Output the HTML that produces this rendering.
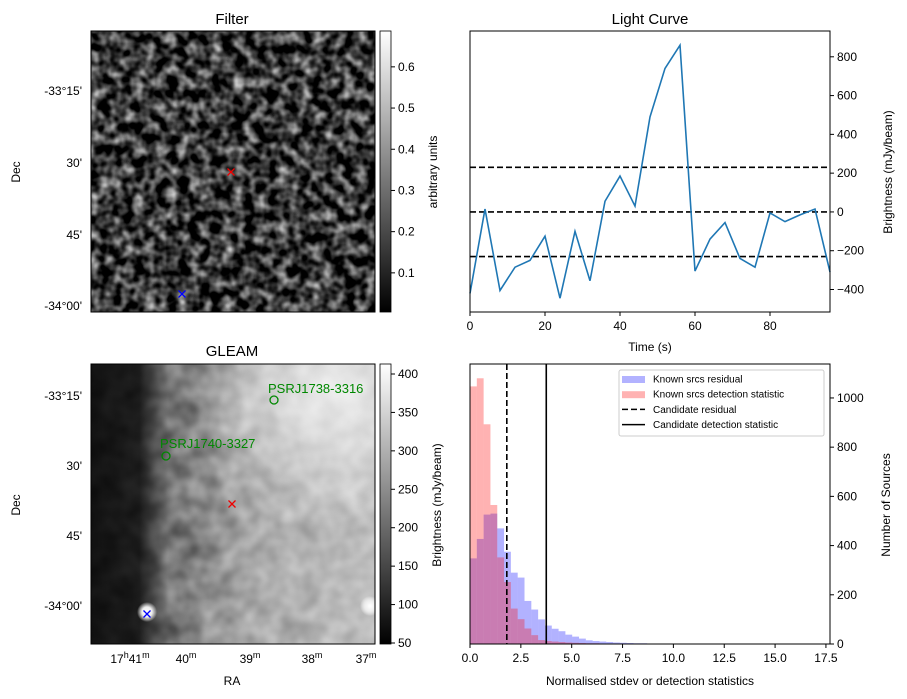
<!DOCTYPE html>
<html><head><meta charset="utf-8"><style>
body{margin:0;background:#fff;}
svg{display:block;font-family:"Liberation Sans","DejaVu Sans",sans-serif;}
</style></head><body>
<svg id="fig" width="907" height="699" viewBox="0 0 907 699">
<defs>
<filter id="noise1" x="0" y="0" width="100%" height="100%" color-interpolation-filters="sRGB">
<feTurbulence type="fractalNoise" baseFrequency="0.09" numOctaves="2" seed="3"/>
<feColorMatrix type="matrix" values="1.5 0 0 0 -0.53  1.5 0 0 0 -0.53  1.5 0 0 0 -0.53  0 0 0 0 1"/>
</filter>
<filter id="noise2" x="0" y="0" width="100%" height="100%" color-interpolation-filters="sRGB">
<feTurbulence type="fractalNoise" baseFrequency="0.05" numOctaves="2" seed="7"/>
<feColorMatrix type="matrix" values="1.4 0 0 0 -0.2  1.4 0 0 0 -0.2  1.4 0 0 0 -0.2  0 0 0 0 0.35"/>
</filter>
<linearGradient id="gleamGrad" x1="0" y1="0" x2="1" y2="0">
<stop offset="0" stop-color="#111"/><stop offset="0.17" stop-color="#1c1c1c"/>
<stop offset="0.27" stop-color="#707070"/><stop offset="0.55" stop-color="#a8a8a8"/>
<stop offset="1" stop-color="#c0c0c0"/></linearGradient>
<radialGradient id="gleamHi" cx="0.85" cy="0.1" r="0.5"><stop offset="0" stop-color="#fff" stop-opacity="0.75"/><stop offset="1" stop-color="#fff" stop-opacity="0"/></radialGradient>
<radialGradient id="blob"><stop offset="0" stop-color="#fff"/><stop offset="0.5" stop-color="#eee"/><stop offset="1" stop-color="#fff" stop-opacity="0"/></radialGradient>
<linearGradient id="cbGray" x1="0" y1="1" x2="0" y2="0"><stop offset="0" stop-color="#000"/><stop offset="1" stop-color="#fff"/></linearGradient>
<clipPath id="clipG"><rect x="91" y="364" width="284" height="280"/></clipPath>
</defs>

<g>
<text x="232" y="24" font-size="15" text-anchor="middle">Filter</text>
<rect x="91" y="31" width="284" height="281" fill="#000" filter="url(#noise1)"/>
<rect x="91" y="31" width="284" height="281" fill="none" stroke="#000" stroke-width="1"/>
<path d="M227.5,168.5l7,7M234.5,168.5l-7,7" stroke="#e00" stroke-width="1.3"/>
<path d="M178.5,290.5l7,7M185.5,290.5l-7,7" stroke="#00f" stroke-width="1.3"/>
<g font-size="12" text-anchor="end">
<text x="82" y="95">-33°15'</text><text x="82" y="167">30'</text><text x="82" y="239">45'</text><text x="82" y="310">-34°00'</text>
</g>
<text transform="translate(20,172) rotate(-90)" font-size="12" text-anchor="middle">Dec</text>
<rect x="380" y="31" width="11" height="281" fill="url(#cbGray)" stroke="#000" stroke-width="0.8"/>
<g id="cb1ticks" font-size="12"></g>
<text transform="translate(437,172) rotate(-90)" font-size="12" text-anchor="middle">arbitrary units</text>
</g>

<g>
<text x="232" y="356" font-size="15" text-anchor="middle">GLEAM</text>
<g clip-path="url(#clipG)">
<rect x="91" y="364" width="284" height="280" fill="url(#gleamGrad)"/>
<rect x="91" y="364" width="284" height="280" fill="url(#gleamHi)"/>
<rect x="91" y="364" width="284" height="280" fill="#000" filter="url(#noise2)" style="mix-blend-mode:overlay"/>
<circle cx="147" cy="612" r="10" fill="url(#blob)"/>
<circle cx="370" cy="606" r="10" fill="url(#blob)"/>
</g>
<rect x="91" y="364" width="284" height="280" fill="none" stroke="#000" stroke-width="1"/>
<path d="M228.5,500.5l7,7M235.5,500.5l-7,7" stroke="#e00" stroke-width="1.3"/>
<path d="M143.5,610.5l7,7M150.5,610.5l-7,7" stroke="#00f" stroke-width="1.3"/>
<circle cx="274" cy="400" r="4" fill="none" stroke="#080" stroke-width="1.3"/>
<text x="268" y="393" font-size="13" fill="#080">PSRJ1738-3316</text>
<circle cx="166" cy="456" r="4" fill="none" stroke="#080" stroke-width="1.3"/>
<text x="160" y="448" font-size="13" fill="#080">PSRJ1740-3327</text>
<g font-size="12" text-anchor="end">
<text x="82" y="400">-33°15'</text><text x="82" y="470">30'</text><text x="82" y="540">45'</text><text x="82" y="610">-34°00'</text>
</g>
<g font-size="12" text-anchor="middle">
<text x="130" y="663">17<tspan font-size="9" dy="-5">h</tspan><tspan dy="5">41</tspan><tspan font-size="9" dy="-5">m</tspan></text>
<text x="186" y="663">40<tspan font-size="9" dy="-5">m</tspan></text>
<text x="250" y="663">39<tspan font-size="9" dy="-5">m</tspan></text>
<text x="312" y="663">38<tspan font-size="9" dy="-5">m</tspan></text>
<text x="366" y="663">37<tspan font-size="9" dy="-5">m</tspan></text>
</g>
<text x="232" y="685" font-size="12" text-anchor="middle">RA</text>
<text transform="translate(20,505) rotate(-90)" font-size="12" text-anchor="middle">Dec</text>
<rect x="380" y="364" width="11" height="280" fill="url(#cbGray)" stroke="#000" stroke-width="0.8"/>
<g id="cb2ticks" font-size="12"></g>
<text transform="translate(441,505) rotate(-90)" font-size="12" text-anchor="middle">Brightness (mJy/beam)</text>
</g>

<g id="lc">
<text x="650" y="24" font-size="15" text-anchor="middle">Light Curve</text>
<text x="650" y="351" font-size="12" text-anchor="middle">Time (s)</text>
<text transform="translate(892,172) rotate(-90)" font-size="12" text-anchor="middle">Brightness (mJy/beam)</text>
</g>

<g id="hist">
<text x="650" y="685" font-size="12" text-anchor="middle">Normalised stdev or detection statistics</text>
<text transform="translate(890,505) rotate(-90)" font-size="12" text-anchor="middle">Number of Sources</text>
</g>
</svg>
<script>
const NS="http://www.w3.org/2000/svg";
function mk(parent,tag,attrs,text){const e=document.createElementNS(NS,tag);for(const k in attrs)e.setAttribute(k,attrs[k]);if(text!==undefined)e.textContent=text;parent.appendChild(e);return e;}

const cb1Ticks=[0.1,0.2,0.3,0.4,0.5,0.6];
const cb2Ticks=[50,100,150,200,250,300,350,400];
const cb1y=v=>312-(v-0.005)/(0.687-0.005)*281;
const cb2y=v=>644-(v-48.7)/(413-48.7)*280;
const g1=document.getElementById('cb1ticks');
cb1Ticks.forEach(v=>{mk(g1,'line',{x1:391,x2:395,y1:cb1y(v),y2:cb1y(v),stroke:'#000'});const t=mk(g1,'text',{x:398,y:cb1y(v)+4},v.toFixed(1));

});
const g2=document.getElementById('cb2ticks');
cb2Ticks.forEach(v=>{mk(g2,'line',{x1:391,x2:395,y1:cb2y(v),y2:cb2y(v),stroke:'#000'});const t=mk(g2,'text',{x:398,y:cb2y(v)+4},String(v));

});

const lcTimes=[0,4,8,12,16,20,24,28,32,36,40,44,48,52,56,60,64,68,72,76,80,84,88,92,96];
const lcFlux=[-420,15,-405,-285,-250,-125,-445,-100,-355,55,185,30,490,740,860,-305,-140,-55,-240,-285,-5,-50,-15,15,-310];
const lcThresholds=[230,0,-230];
const lcXTicks=[0,20,40,60,80];
const lcYTicks=[-400,-200,0,200,400,600,800];
const LC={x0:470,x1:830,y0:31,y1:312,xmin:0,xmax:96,ymin:-516,ymax:933};
const lx=v=>LC.x0+(v-LC.xmin)/(LC.xmax-LC.xmin)*(LC.x1-LC.x0);
const ly=v=>LC.y1-(v-LC.ymin)/(LC.ymax-LC.ymin)*(LC.y1-LC.y0);
const lc=document.getElementById('lc');
lcThresholds.forEach(v=>{const l=mk(lc,'line',{x1:LC.x0,x2:LC.x1,y1:ly(v),y2:ly(v),stroke:'#000','stroke-width':1.6,'stroke-dasharray':'6,3'});

});
const pl=mk(lc,'polyline',{points:lcTimes.map((t,i)=>lx(t)+','+ly(lcFlux[i])).join(' '),fill:'none',stroke:'#1f77b4','stroke-width':1.6});


mk(lc,'rect',{x:LC.x0,y:LC.y0,width:LC.x1-LC.x0,height:LC.y1-LC.y0,fill:'none',stroke:'#000','stroke-width':1});
lcXTicks.forEach(v=>{mk(lc,'line',{x1:lx(v),x2:lx(v),y1:LC.y1,y2:LC.y1+4,stroke:'#000'});const t=mk(lc,'text',{x:lx(v),y:LC.y1+18,'font-size':12,'text-anchor':'middle'},String(v));

});
lcYTicks.forEach(v=>{mk(lc,'line',{x1:LC.x1,x2:LC.x1+4,y1:ly(v),y2:ly(v),stroke:'#000'});const t=mk(lc,'text',{x:LC.x1+7,y:ly(v)+4,'font-size':12},String(v).replace('-','\u2212'));

});

const binWidth=0.335;
const blueCounts=[348,427,526,530,470,375,290,270,175,140,100,75,62,52,38,30,22,15,12,10,8,6,5,4,3,3,2,2,2,1,1,1];
const redCounts=[1047,1080,893,565,352,252,144,101,63,36,16,12,10,8,6,5,4,3,3,2,2,2,1,1,1,1];
const candResidual=1.81;
const candDetection=3.75;
const hXTicks=[0,2.5,5,7.5,10,12.5,15,17.5];
const hYTicks=[0,200,400,600,800,1000];
const H={x0:470,x1:830,y0:364,y1:644,xmin:0,xmax:17.7,ymin:0,ymax:1138};
const hx=v=>H.x0+(v-H.xmin)/(H.xmax-H.xmin)*(H.x1-H.x0);
const hy=v=>H.y1-(v-H.ymin)/(H.ymax-H.ymin)*(H.y1-H.y0);
const hg=document.getElementById('hist');
blueCounts.forEach((c,i)=>{const r=mk(hg,'rect',{x:hx(i*binWidth),y:hy(c),width:hx((i+1)*binWidth)-hx(i*binWidth),height:hy(0)-hy(c),fill:'#0000ff','fill-opacity':0.3});

});
redCounts.forEach((c,i)=>{const r=mk(hg,'rect',{x:hx(i*binWidth),y:hy(c),width:hx((i+1)*binWidth)-hx(i*binWidth),height:hy(0)-hy(c),fill:'#ff0000','fill-opacity':0.3});

});
const dl=mk(hg,'line',{x1:hx(candResidual),x2:hx(candResidual),y1:H.y0,y2:H.y1,stroke:'#000','stroke-width':1.6,'stroke-dasharray':'6,3'});


const sl=mk(hg,'line',{x1:hx(candDetection),x2:hx(candDetection),y1:H.y0,y2:H.y1,stroke:'#000','stroke-width':1.6});


mk(hg,'rect',{x:H.x0,y:H.y0,width:H.x1-H.x0,height:H.y1-H.y0,fill:'none',stroke:'#000','stroke-width':1});
hXTicks.forEach(v=>{mk(hg,'line',{x1:hx(v),x2:hx(v),y1:H.y1,y2:H.y1+4,stroke:'#000'});const t=mk(hg,'text',{x:hx(v),y:H.y1+18,'font-size':12,'text-anchor':'middle'},v.toFixed(1));

});
hYTicks.forEach(v=>{mk(hg,'line',{x1:H.x1,x2:H.x1+4,y1:hy(v),y2:hy(v),stroke:'#000'});const t=mk(hg,'text',{x:H.x1+7,y:hy(v)+4,'font-size':12},String(v));

});
const lg=mk(hg,'g',{});


mk(lg,'rect',{x:619,y:370,width:205,height:66,fill:'#fff','fill-opacity':0.85,stroke:'#ccc',rx:2});
const legendLabels=['Known srcs residual','Known srcs detection statistic','Candidate residual','Candidate detection statistic'];
legendLabels.forEach((lab,i)=>{const y=379+i*15.2;
if(i===0)mk(lg,'rect',{x:622,y:y-3,width:23,height:7,fill:'#0000ff','fill-opacity':0.3});
if(i===1)mk(lg,'rect',{x:622,y:y-3,width:23,height:7,fill:'#ff0000','fill-opacity':0.3});
if(i===2)mk(lg,'line',{x1:622,x2:645,y1:y,y2:y,stroke:'#000','stroke-width':1.5,'stroke-dasharray':'6,3'});
if(i===3)mk(lg,'line',{x1:622,x2:645,y1:y,y2:y,stroke:'#000','stroke-width':1.5});
const t=mk(lg,'text',{x:653,y:y+3.5,'font-size':10},lab);

});
</script>
</body></html>
